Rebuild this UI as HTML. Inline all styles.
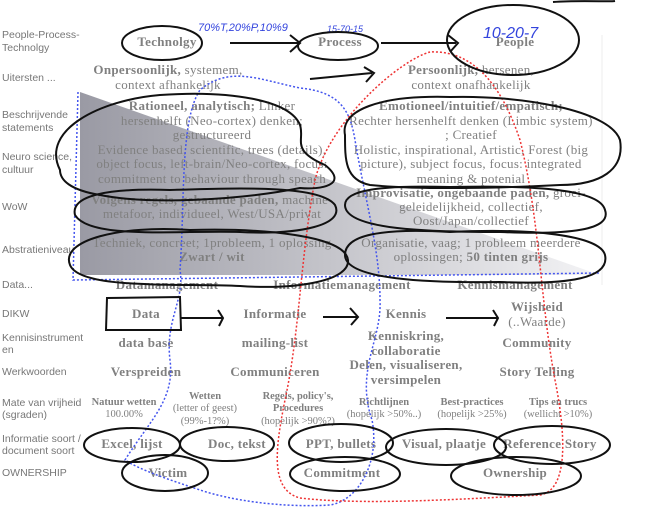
<!DOCTYPE html>
<html><head><meta charset="utf-8"><style>
html,body{margin:0;padding:0;background:#fff;width:650px;height:509px;overflow:hidden}
svg{display:block}
.l{font-family:"Liberation Sans",sans-serif;font-size:10.5px;fill:#777}
.t{font-family:"Liberation Serif",serif;font-size:13px;letter-spacing:0.3px;fill:#808080;text-anchor:middle}
.b{font-weight:bold}
.s{font-size:10.5px;letter-spacing:0}
.h{font-family:"Liberation Sans",sans-serif;fill:#3344dd;font-style:italic}
.k{fill:none;stroke:#111;stroke-width:2}
</style></head><body>
<svg width="650" height="509" viewBox="0 0 650 509">
<defs><linearGradient id="g" x1="0" x2="1" y1="0" y2="0"><stop offset="0" stop-color="#9a9aa4"/><stop offset="0.6" stop-color="#cfcfd4"/><stop offset="1" stop-color="#f4f4f6"/></linearGradient></defs>
<polygon points="80,92 600,275 80,275" fill="url(#g)"/>
<line x1="602" y1="35" x2="602" y2="285" stroke="#eee"/>
<g class="l">
<text x="2" y="38">People-Process-</text><text x="2" y="51">Technolgy</text>
<text x="2" y="81">Uitersten ...</text>
<text x="2" y="118">Beschrijvende</text><text x="2" y="131">statements</text>
<text x="2" y="160">Neuro science,</text><text x="2" y="173">cultuur</text>
<text x="2" y="210">WoW</text>
<text x="2" y="253">Abstratieniveau</text>
<text x="2" y="288">Data...</text>
<text x="2" y="317">DIKW</text>
<text x="2" y="341">Kennisinstrument</text><text x="2" y="353">en</text>
<text x="2" y="375">Werkwoorden</text>
<text x="2" y="406">Mate van vrijheid</text><text x="2" y="418">(sgraden)</text>
<text x="2" y="442">Informatie soort /</text><text x="2" y="454">document soort</text>
<text x="2" y="476">OWNERSHIP</text>
</g>
<g class="t">
<text class="b" x="167" y="46">Technolgy</text>
<text class="b" x="340" y="46">Process</text>
<text class="b" x="515" y="46">People</text>
<text x="168" y="74"><tspan class="b">Onpersoonlijk,</tspan> systemem,</text>
<text x="168" y="89">context afhankelijk</text>
<text x="471" y="74"><tspan class="b">Persoonlijk,</tspan> hersenen,</text>
<text x="471" y="89">context onafhankelijk</text>
<text x="212" y="110"><tspan class="b">Rationeel, analytisch;</tspan> Linker</text>
<text x="212" y="125">hersenhelft (Neo-cortex)  denken;</text>
<text x="212" y="139">gestructureerd</text>
<text x="212" y="154">Evidence based, scientific, trees (details),</text>
<text x="212" y="168">object focus, left-brain/Neo-cortex, focus:</text>
<text x="212" y="183">commitment to behaviour through speach</text>
<text class="b" x="471" y="110">Emotioneel/intuitief/empatisch;</text>
<text x="471" y="125">Rechter hersenhelft denken (Limbic system)</text>
<text x="471" y="139">; Creatief</text>
<text x="471" y="154">Holistic, inspirational, Artistic, Forest (big</text>
<text x="471" y="168">picture), subject focus, focus: integrated</text>
<text x="471" y="183">meaning &amp; potenial</text>
<text x="212" y="204"><tspan class="b">Volgens regels, gebaande paden,</tspan> machine-</text>
<text x="212" y="218">metafoor, individueel, West/USA/privat</text>
<text x="471" y="197"><tspan class="b">Improvisatie, ongebaande paden,</tspan> groei-</text>
<text x="471" y="211">geleidelijkheid, collectief,</text>
<text x="471" y="225">Oost/Japan/collectief</text>
<text x="212" y="247">Techniek, concreet; 1probleem, 1 oplossing</text>
<text class="b" x="212" y="261">Zwart / wit</text>
<text x="471" y="247">Organisatie, vaag; 1 probleem meerdere</text>
<text x="471" y="261">oplossingen; <tspan class="b">50 tinten grijs</tspan></text>
<text class="b" x="167" y="289">Datamanagement</text>
<text class="b" x="342" y="289">Informatiemanagement</text>
<text class="b" x="515" y="289">Kennismanagement</text>
<text class="b" x="146" y="318">Data</text>
<text class="b" x="275" y="318">Informatie</text>
<text class="b" x="406" y="318">Kennis</text>
<text class="b" x="537" y="311">Wijsheid</text>
<text x="537" y="326">(..Waarde)</text>
<text class="b" x="146" y="347">data base</text>
<text class="b" x="275" y="347">mailing-list</text>
<text class="b" x="406" y="340">Kenniskring,</text>
<text class="b" x="406" y="355">collaboratie</text>
<text class="b" x="537" y="347">Community</text>
<text class="b" x="146" y="376">Verspreiden</text>
<text class="b" x="275" y="376">Communiceren</text>
<text class="b" x="406" y="369">Delen, visualiseren,</text>
<text class="b" x="406" y="384">versimpelen</text>
<text class="b" x="537" y="376">Story Telling</text>
<g class="s">
<text class="b" x="124" y="405">Natuur wetten</text><text x="124" y="417">100.00%</text>
<text class="b" x="205" y="399">Wetten</text><text x="205" y="411">(letter of geest)</text><text x="205" y="424">(99%-1?%)</text>
<text class="b" x="298" y="399">Regels, policy's,</text><text class="b" x="298" y="411">Procedures</text><text x="298" y="424">(hopelijk &gt;90%?)</text>
<text class="b" x="384" y="405">Richtlijnen</text><text x="384" y="417">(hopelijk &gt;50%..)</text>
<text class="b" x="472" y="405">Best-practices</text><text x="472" y="417">(hopelijk &gt;25%)</text>
<text class="b" x="558" y="405">Tips en trucs</text><text x="558" y="417">(wellicht &gt;10%)</text>
</g>
<text class="b" x="132" y="448">Excel, lijst</text>
<text class="b" x="237" y="448">Doc, tekst</text>
<text class="b" x="341" y="448">PPT, bullets</text>
<text class="b" x="444" y="448">Visual, plaatje</text>
<text class="b" x="550" y="448">Reference Story</text>
<text class="b" x="168" y="477">Victim</text>
<text class="b" x="342" y="477">Commitment</text>
<text class="b" x="515" y="477">Ownership</text>
</g>
<text class="h" x="198" y="31" font-size="11">70%T,20%P,10%9</text>
<text class="h" x="327" y="32" font-size="9">15-70-15</text>
<text class="h" x="483" y="38" font-size="16">10-20-7</text>
<path d="M78,92 L73,280 L600,273" fill="none" stroke="#4455ee" stroke-width="1.5" stroke-dasharray="2,2"/>
<path d="M180,270 C185,200 180,120 200,90 C230,65 260,80 300,88 C340,92 350,110 355,140 C365,200 380,250 380,300 C382,340 355,370 372,420 C380,460 360,500 330,505 C280,508 230,500 200,490 C170,480 140,470 125,460 C150,420 175,400 170,360 C165,320 185,300 180,270 Z" fill="none" stroke="#4455ee" stroke-width="1.5" stroke-dasharray="2,2"/>
<path d="M430,52 C400,60 330,120 315,180 C300,260 300,330 285,400 C275,450 270,490 300,498 C360,505 450,500 540,495 C570,490 565,430 555,380 C540,300 540,220 520,140 C500,80 470,50 430,52 Z" fill="none" stroke="#ee3333" stroke-width="1.5" stroke-dasharray="2,2"/>
<g class="k">
<ellipse cx="162" cy="43" rx="40" ry="17"/>
<ellipse cx="338" cy="46" rx="40" ry="14"/>
<ellipse cx="513" cy="40" rx="66" ry="35"/>
<path d="M553,2 C580,0 610,2 615,1"/>
<path d="M230,43 L298,43 M290,35 L300,43 L290,52"/>
<path d="M381,43 L456,43 M448,35 L458,43 L450,52"/>
<path d="M310,79 L372,73 M364,67 L374,73 L366,82"/>
<path d="M60,170 C40,130 100,100 160,95 C230,90 290,100 300,125 C305,140 290,150 325,165 C350,185 320,190 300,188 C240,200 150,205 100,195 C70,190 60,180 60,170 Z"/>
<path d="M345,135 C340,110 380,95 450,97 C520,95 610,110 620,140 C625,170 600,185 560,185 C500,188 420,190 370,185 C345,180 345,160 345,135 Z"/>
<path d="M75,215 C70,195 110,188 170,190 C240,188 320,185 335,205 C345,225 300,235 240,232 C180,230 90,240 75,215 Z"/>
<path d="M345,205 C345,190 380,185 450,187 C540,185 600,190 605,210 C612,230 570,235 500,232 C430,232 345,230 345,205 Z"/>
<path d="M70,265 C60,240 120,225 190,230 C260,228 345,235 348,260 C350,280 300,290 240,286 C180,283 80,290 70,265 Z"/>
<path d="M345,255 C345,235 380,228 450,232 C530,228 600,235 605,255 C610,278 570,285 500,282 C430,283 345,280 345,255 Z"/>
<path d="M107,298 L180,297 L181,330 L106,330 Z"/>
<path d="M181,318 L222,318 M218,310 L223,318 L219,326"/>
<path d="M323,317 L357,317 M350,308 L358,317 L351,325"/>
<path d="M446,318 L497,318 M493,310 L498,318 L494,326"/>
<ellipse cx="132" cy="445" rx="48" ry="17"/>
<ellipse cx="227" cy="444" rx="47" ry="17"/>
<ellipse cx="341" cy="443" rx="52" ry="19"/>
<ellipse cx="446" cy="447" rx="60" ry="18"/>
<ellipse cx="552" cy="445" rx="58" ry="19"/>
<ellipse cx="165" cy="473" rx="43" ry="18"/>
<ellipse cx="345" cy="474" rx="55" ry="17"/>
<ellipse cx="516" cy="476" rx="65" ry="19"/>
</g>
</svg>
</body></html>
